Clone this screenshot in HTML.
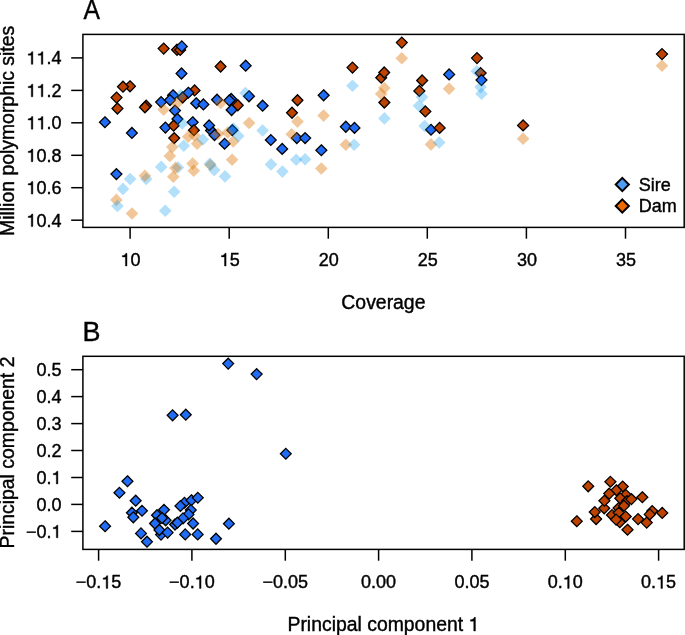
<!DOCTYPE html><html><head><meta charset="utf-8"><style>html,body{margin:0;padding:0;background:#fff;}svg{display:block;will-change:transform;}.h1{fill:none;stroke:none;}text{font-kerning:none;font-family:"Liberation Sans",sans-serif;fill:#000;stroke:#000;stroke-width:0.4px;}</style></head><body>
<svg width="685" height="635" viewBox="0 0 685 635">
<rect width="685" height="635" fill="#fff"/>
<text transform="translate(83.6 18.8) scale(0.95 1.06)" font-size="26">A</text>
<g>
<path d="M194.6 85.0L200.0 90.4L194.6 95.9L189.2 90.4Z" fill="#bf4300" stroke="#000" stroke-width="1.3"/>
<path d="M237.8 99.8L243.2 105.3L237.8 110.8L232.4 105.3Z" fill="#bf4300" stroke="#000" stroke-width="1.3"/>
<path d="M480.6 67.6L486.1 73.1L480.6 78.5L475.2 73.1Z" fill="#bf4300" stroke="#000" stroke-width="1.3"/>
<path d="M181.5 68.0L186.9 73.5L181.5 79.0L176.1 73.5Z" fill="#216cf5" stroke="#000" stroke-width="1.3"/>
<path d="M188.3 87.3L193.8 92.8L188.3 98.2L182.9 92.8Z" fill="#216cf5" stroke="#000" stroke-width="1.3"/>
<path d="M173.0 89.8L178.4 95.2L173.0 100.7L167.6 95.2Z" fill="#216cf5" stroke="#000" stroke-width="1.3"/>
<path d="M245.7 60.2L251.1 65.7L245.7 71.2L240.2 65.7Z" fill="#216cf5" stroke="#000" stroke-width="1.3"/>
<path d="M249.0 90.8L254.4 96.2L249.0 101.7L243.6 96.2Z" fill="#216cf5" stroke="#000" stroke-width="1.3"/>
<path d="M323.6 89.8L329.1 95.3L323.6 100.8L318.2 95.3Z" fill="#216cf5" stroke="#000" stroke-width="1.3"/>
<path d="M449.1 69.0L454.6 74.4L449.1 79.9L443.7 74.4Z" fill="#216cf5" stroke="#000" stroke-width="1.3"/>
<path d="M481.5 74.6L486.9 80.1L481.5 85.5L476.1 80.1Z" fill="#216cf5" stroke="#000" stroke-width="1.3"/>
<path d="M231.2 93.5L236.6 99.0L231.2 104.5L225.8 99.0Z" fill="#216cf5" stroke="#000" stroke-width="1.3"/>
<path d="M211.0 125.0L216.4 130.5L211.0 135.9L205.6 130.5Z" fill="#216cf5" stroke="#000" stroke-width="1.3"/>
<path d="M161.1 96.6L166.5 102.1L161.1 107.5L155.7 102.1Z" fill="#216cf5" stroke="#000" stroke-width="1.3"/>
<path d="M170.0 94.6L175.4 100.1L170.0 105.5L164.6 100.1Z" fill="#216cf5" stroke="#000" stroke-width="1.3"/>
<path d="M196.2 97.8L201.6 103.2L196.2 108.7L190.8 103.2Z" fill="#216cf5" stroke="#000" stroke-width="1.3"/>
<path d="M203.4 99.0L208.8 104.4L203.4 109.9L198.0 104.4Z" fill="#216cf5" stroke="#000" stroke-width="1.3"/>
<path d="M217.0 94.3L222.4 99.8L217.0 105.2L211.6 99.8Z" fill="#216cf5" stroke="#000" stroke-width="1.3"/>
<path d="M229.3 95.0L234.8 100.4L229.3 105.9L223.9 100.4Z" fill="#216cf5" stroke="#000" stroke-width="1.3"/>
<path d="M231.6 104.5L237.0 110.0L231.6 115.5L226.2 110.0Z" fill="#216cf5" stroke="#000" stroke-width="1.3"/>
<path d="M175.0 105.1L180.4 110.6L175.0 116.0L169.6 110.6Z" fill="#216cf5" stroke="#000" stroke-width="1.3"/>
<path d="M177.4 113.5L182.8 119.0L177.4 124.5L172.0 119.0Z" fill="#216cf5" stroke="#000" stroke-width="1.3"/>
<path d="M165.4 122.1L170.8 127.6L165.4 133.0L160.0 127.6Z" fill="#216cf5" stroke="#000" stroke-width="1.3"/>
<path d="M192.7 116.8L198.1 122.2L192.7 127.7L187.2 122.2Z" fill="#216cf5" stroke="#000" stroke-width="1.3"/>
<path d="M209.1 120.0L214.5 125.4L209.1 130.8L203.7 125.4Z" fill="#216cf5" stroke="#000" stroke-width="1.3"/>
<path d="M214.5 129.7L219.9 135.1L214.5 140.5L209.1 135.1Z" fill="#216cf5" stroke="#000" stroke-width="1.3"/>
<path d="M224.6 138.4L230.0 143.8L224.6 149.2L219.2 143.8Z" fill="#216cf5" stroke="#000" stroke-width="1.3"/>
<path d="M232.3 124.7L237.8 130.2L232.3 135.6L226.9 130.2Z" fill="#216cf5" stroke="#000" stroke-width="1.3"/>
<path d="M104.9 116.8L110.4 122.2L104.9 127.7L99.5 122.2Z" fill="#216cf5" stroke="#000" stroke-width="1.3"/>
<path d="M131.9 127.5L137.3 133.0L131.9 138.4L126.5 133.0Z" fill="#216cf5" stroke="#000" stroke-width="1.3"/>
<path d="M262.6 100.2L268.1 105.7L262.6 111.2L257.2 105.7Z" fill="#216cf5" stroke="#000" stroke-width="1.3"/>
<path d="M270.8 134.6L276.2 140.0L270.8 145.4L265.4 140.0Z" fill="#216cf5" stroke="#000" stroke-width="1.3"/>
<path d="M282.2 143.5L287.6 148.9L282.2 154.3L276.8 148.9Z" fill="#216cf5" stroke="#000" stroke-width="1.3"/>
<path d="M296.8 132.7L302.2 138.1L296.8 143.5L291.4 138.1Z" fill="#216cf5" stroke="#000" stroke-width="1.3"/>
<path d="M305.1 132.7L310.6 138.1L305.1 143.5L299.7 138.1Z" fill="#216cf5" stroke="#000" stroke-width="1.3"/>
<path d="M345.8 121.2L351.2 126.7L345.8 132.2L340.4 126.7Z" fill="#216cf5" stroke="#000" stroke-width="1.3"/>
<path d="M354.5 122.5L359.9 127.9L354.5 133.3L349.1 127.9Z" fill="#216cf5" stroke="#000" stroke-width="1.3"/>
<path d="M321.3 144.8L326.8 150.2L321.3 155.6L315.9 150.2Z" fill="#216cf5" stroke="#000" stroke-width="1.3"/>
<path d="M431.0 124.4L436.4 129.8L431.0 135.2L425.6 129.8Z" fill="#216cf5" stroke="#000" stroke-width="1.3"/>
<path d="M116.4 168.7L121.9 174.1L116.4 179.5L111.0 174.1Z" fill="#216cf5" stroke="#000" stroke-width="1.3"/>
<path d="M130.0 80.8L135.4 86.3L130.0 91.8L124.5 86.3Z" fill="#bf4300" stroke="#000" stroke-width="1.3"/>
<path d="M123.0 81.2L128.4 86.7L123.0 92.2L117.5 86.7Z" fill="#bf4300" stroke="#000" stroke-width="1.3"/>
<path d="M116.6 92.1L122.0 97.6L116.6 103.0L111.1 97.6Z" fill="#bf4300" stroke="#000" stroke-width="1.3"/>
<path d="M177.0 44.2L182.4 49.7L177.0 55.2L171.6 49.7Z" fill="#bf4300" stroke="#000" stroke-width="1.3"/>
<path d="M180.2 44.4L185.6 49.9L180.2 55.4L174.8 49.9Z" fill="#bf4300" stroke="#000" stroke-width="1.3"/>
<path d="M163.7 43.1L169.1 48.6L163.7 54.1L158.2 48.6Z" fill="#bf4300" stroke="#000" stroke-width="1.3"/>
<path d="M220.6 61.0L226.0 66.5L220.6 72.0L215.2 66.5Z" fill="#bf4300" stroke="#000" stroke-width="1.3"/>
<path d="M182.6 92.0L188.0 97.5L182.6 103.0L177.2 97.5Z" fill="#bf4300" stroke="#000" stroke-width="1.3"/>
<path d="M352.5 62.1L357.9 67.6L352.5 73.0L347.1 67.6Z" fill="#bf4300" stroke="#000" stroke-width="1.3"/>
<path d="M381.2 72.3L386.6 77.8L381.2 83.2L375.8 77.8Z" fill="#bf4300" stroke="#000" stroke-width="1.3"/>
<path d="M384.2 67.0L389.6 72.5L384.2 78.0L378.8 72.5Z" fill="#bf4300" stroke="#000" stroke-width="1.3"/>
<path d="M401.8 37.1L407.2 42.6L401.8 48.1L396.4 42.6Z" fill="#bf4300" stroke="#000" stroke-width="1.3"/>
<path d="M422.1 75.0L427.6 80.5L422.1 86.0L416.7 80.5Z" fill="#bf4300" stroke="#000" stroke-width="1.3"/>
<path d="M419.3 85.5L424.8 90.9L419.3 96.4L413.9 90.9Z" fill="#bf4300" stroke="#000" stroke-width="1.3"/>
<path d="M477.0 52.6L482.4 58.1L477.0 63.6L471.6 58.1Z" fill="#bf4300" stroke="#000" stroke-width="1.3"/>
<path d="M662.0 48.6L667.5 54.1L662.0 59.6L656.5 54.1Z" fill="#bf4300" stroke="#000" stroke-width="1.3"/>
<path d="M117.4 103.0L122.9 108.5L117.4 114.0L112.0 108.5Z" fill="#bf4300" stroke="#000" stroke-width="1.3"/>
<path d="M146.2 100.2L151.6 105.7L146.2 111.2L140.8 105.7Z" fill="#bf4300" stroke="#000" stroke-width="1.3"/>
<path d="M144.9 101.8L150.3 107.2L144.9 112.7L139.5 107.2Z" fill="#bf4300" stroke="#000" stroke-width="1.3"/>
<path d="M173.6 120.3L179.0 125.8L173.6 131.2L168.2 125.8Z" fill="#bf4300" stroke="#000" stroke-width="1.3"/>
<path d="M193.9 124.7L199.3 130.2L193.9 135.6L188.5 130.2Z" fill="#bf4300" stroke="#000" stroke-width="1.3"/>
<path d="M174.2 132.7L179.6 138.1L174.2 143.5L168.8 138.1Z" fill="#bf4300" stroke="#000" stroke-width="1.3"/>
<path d="M297.5 94.8L302.9 100.3L297.5 105.8L292.1 100.3Z" fill="#bf4300" stroke="#000" stroke-width="1.3"/>
<path d="M292.0 107.2L297.4 112.7L292.0 118.2L286.6 112.7Z" fill="#bf4300" stroke="#000" stroke-width="1.3"/>
<path d="M384.3 97.0L389.8 102.5L384.3 108.0L378.9 102.5Z" fill="#bf4300" stroke="#000" stroke-width="1.3"/>
<path d="M425.3 106.0L430.8 111.4L425.3 116.9L419.9 111.4Z" fill="#bf4300" stroke="#000" stroke-width="1.3"/>
<path d="M439.6 122.5L445.1 127.9L439.6 133.3L434.2 127.9Z" fill="#bf4300" stroke="#000" stroke-width="1.3"/>
<path d="M523.1 120.0L528.6 125.4L523.1 130.8L517.6 125.4Z" fill="#bf4300" stroke="#000" stroke-width="1.3"/>
<path d="M181.8 40.9L187.2 46.4L181.8 51.9L176.4 46.4Z" fill="#216cf5" stroke="#000" stroke-width="1.3"/>
<path d="M178.0 161.2L184.3 167.5L178.0 173.8L171.7 167.5Z" fill="rgba(0,148,238,0.3)"/>
<path d="M146.2 172.7L152.5 179.0L146.2 185.3L139.9 179.0Z" fill="rgba(0,148,238,0.3)"/>
<path d="M401.8 51.9L408.1 58.2L401.8 64.5L395.5 58.2Z" fill="rgba(220,112,0,0.4)"/>
<path d="M384.3 81.7L390.6 88.0L384.3 94.3L378.0 88.0Z" fill="rgba(220,112,0,0.4)"/>
<path d="M381.2 87.6L387.5 93.9L381.2 100.2L374.9 93.9Z" fill="rgba(220,112,0,0.4)"/>
<path d="M449.1 82.4L455.4 88.7L449.1 95.0L442.8 88.7Z" fill="rgba(220,112,0,0.4)"/>
<path d="M662.0 59.5L668.3 65.8L662.0 72.1L655.7 65.8Z" fill="rgba(220,112,0,0.4)"/>
<path d="M523.1 132.4L529.4 138.7L523.1 145.0L516.8 138.7Z" fill="rgba(220,112,0,0.4)"/>
<path d="M431.0 138.1L437.3 144.4L431.0 150.7L424.7 144.4Z" fill="rgba(220,112,0,0.4)"/>
<path d="M345.8 138.5L352.1 144.8L345.8 151.1L339.5 144.8Z" fill="rgba(220,112,0,0.4)"/>
<path d="M323.6 109.3L329.9 115.6L323.6 121.9L317.3 115.6Z" fill="rgba(220,112,0,0.4)"/>
<path d="M321.3 162.2L327.6 168.5L321.3 174.8L315.0 168.5Z" fill="rgba(220,112,0,0.4)"/>
<path d="M297.5 115.3L303.8 121.6L297.5 127.9L291.2 121.6Z" fill="rgba(220,112,0,0.4)"/>
<path d="M291.7 128.0L298.0 134.3L291.7 140.6L285.4 134.3Z" fill="rgba(220,112,0,0.4)"/>
<path d="M249.1 116.7L255.4 123.0L249.1 129.3L242.8 123.0Z" fill="rgba(220,112,0,0.4)"/>
<path d="M232.1 153.4L238.4 159.7L232.1 166.0L225.8 159.7Z" fill="rgba(220,112,0,0.4)"/>
<path d="M163.6 103.3L169.9 109.6L163.6 115.9L157.3 109.6Z" fill="rgba(220,112,0,0.4)"/>
<path d="M176.7 97.1L183.0 103.4L176.7 109.7L170.4 103.4Z" fill="rgba(220,112,0,0.4)"/>
<path d="M220.7 96.7L227.0 103.0L220.7 109.3L214.4 103.0Z" fill="rgba(220,112,0,0.4)"/>
<path d="M188.2 130.5L194.5 136.8L188.2 143.1L181.9 136.8Z" fill="rgba(220,112,0,0.4)"/>
<path d="M194.5 129.2L200.8 135.5L194.5 141.8L188.2 135.5Z" fill="rgba(220,112,0,0.4)"/>
<path d="M197.1 137.5L203.4 143.8L197.1 150.1L190.8 143.8Z" fill="rgba(220,112,0,0.4)"/>
<path d="M172.3 140.7L178.6 147.0L172.3 153.3L166.0 147.0Z" fill="rgba(220,112,0,0.4)"/>
<path d="M169.8 149.6L176.1 155.9L169.8 162.2L163.5 155.9Z" fill="rgba(220,112,0,0.4)"/>
<path d="M218.0 127.7L224.3 134.0L218.0 140.3L211.7 134.0Z" fill="rgba(220,112,0,0.4)"/>
<path d="M227.7 126.3L234.0 132.6L227.7 138.9L221.4 132.6Z" fill="rgba(220,112,0,0.4)"/>
<path d="M233.2 135.2L239.5 141.5L233.2 147.8L226.9 141.5Z" fill="rgba(220,112,0,0.4)"/>
<path d="M192.6 157.3L198.9 163.6L192.6 169.9L186.3 163.6Z" fill="rgba(220,112,0,0.4)"/>
<path d="M193.7 164.4L200.0 170.7L193.7 177.0L187.4 170.7Z" fill="rgba(220,112,0,0.4)"/>
<path d="M175.5 161.6L181.8 167.9L175.5 174.2L169.2 167.9Z" fill="rgba(220,112,0,0.4)"/>
<path d="M173.3 170.5L179.6 176.8L173.3 183.1L167.0 176.8Z" fill="rgba(220,112,0,0.4)"/>
<path d="M210.5 158.7L216.8 165.0L210.5 171.3L204.2 165.0Z" fill="rgba(220,112,0,0.4)"/>
<path d="M144.9 169.5L151.2 175.8L144.9 182.1L138.6 175.8Z" fill="rgba(220,112,0,0.4)"/>
<path d="M116.4 193.6L122.7 199.9L116.4 206.2L110.1 199.9Z" fill="rgba(220,112,0,0.4)"/>
<path d="M132.0 207.2L138.3 213.5L132.0 219.8L125.7 213.5Z" fill="rgba(220,112,0,0.4)"/>
<path d="M180.6 89.0L186.9 95.3L180.6 101.6L174.3 95.3Z" fill="rgba(0,148,238,0.3)"/>
<path d="M245.4 86.7L251.7 93.0L245.4 99.3L239.1 93.0Z" fill="rgba(0,148,238,0.3)"/>
<path d="M352.5 79.5L358.8 85.8L352.5 92.1L346.2 85.8Z" fill="rgba(0,148,238,0.3)"/>
<path d="M476.8 64.9L483.1 71.2L476.8 77.5L470.5 71.2Z" fill="rgba(0,148,238,0.3)"/>
<path d="M480.6 80.8L486.9 87.1L480.6 93.4L474.3 87.1Z" fill="rgba(0,148,238,0.3)"/>
<path d="M481.5 87.5L487.8 93.8L481.5 100.1L475.2 93.8Z" fill="rgba(0,148,238,0.3)"/>
<path d="M422.1 90.7L428.4 97.0L422.1 103.3L415.8 97.0Z" fill="rgba(0,148,238,0.3)"/>
<path d="M418.9 99.4L425.2 105.7L418.9 112.0L412.6 105.7Z" fill="rgba(0,148,238,0.3)"/>
<path d="M384.4 112.1L390.7 118.4L384.4 124.7L378.1 118.4Z" fill="rgba(0,148,238,0.3)"/>
<path d="M424.6 119.7L430.9 126.0L424.6 132.3L418.3 126.0Z" fill="rgba(0,148,238,0.3)"/>
<path d="M439.2 136.2L445.5 142.5L439.2 148.8L432.9 142.5Z" fill="rgba(0,148,238,0.3)"/>
<path d="M354.1 138.5L360.4 144.8L354.1 151.1L347.8 144.8Z" fill="rgba(0,148,238,0.3)"/>
<path d="M182.2 117.2L188.5 123.5L182.2 129.8L175.9 123.5Z" fill="rgba(0,148,238,0.3)"/>
<path d="M183.8 139.4L190.1 145.7L183.8 152.0L177.5 145.7Z" fill="rgba(0,148,238,0.3)"/>
<path d="M202.8 133.2L209.1 139.5L202.8 145.8L196.5 139.5Z" fill="rgba(0,148,238,0.3)"/>
<path d="M233.3 122.3L239.6 128.6L233.3 134.9L227.0 128.6Z" fill="rgba(0,148,238,0.3)"/>
<path d="M238.3 129.7L244.6 136.0L238.3 142.3L232.0 136.0Z" fill="rgba(0,148,238,0.3)"/>
<path d="M209.8 157.4L216.1 163.7L209.8 170.0L203.5 163.7Z" fill="rgba(0,148,238,0.3)"/>
<path d="M214.2 163.8L220.5 170.1L214.2 176.4L207.9 170.1Z" fill="rgba(0,148,238,0.3)"/>
<path d="M262.6 124.2L268.9 130.5L262.6 136.8L256.3 130.5Z" fill="rgba(0,148,238,0.3)"/>
<path d="M296.2 153.4L302.5 159.7L296.2 166.0L289.9 159.7Z" fill="rgba(0,148,238,0.3)"/>
<path d="M305.1 153.0L311.4 159.3L305.1 165.6L298.8 159.3Z" fill="rgba(0,148,238,0.3)"/>
<path d="M271.0 158.1L277.3 164.4L271.0 170.7L264.7 164.4Z" fill="rgba(0,148,238,0.3)"/>
<path d="M282.4 165.3L288.7 171.6L282.4 177.9L276.1 171.6Z" fill="rgba(0,148,238,0.3)"/>
<path d="M130.1 172.7L136.4 179.0L130.1 185.3L123.8 179.0Z" fill="rgba(0,148,238,0.3)"/>
<path d="M123.0 182.6L129.3 188.9L123.0 195.2L116.7 188.9Z" fill="rgba(0,148,238,0.3)"/>
<path d="M117.4 199.7L123.7 206.0L117.4 212.3L111.1 206.0Z" fill="rgba(0,148,238,0.3)"/>
<path d="M161.2 160.6L167.5 166.9L161.2 173.2L154.9 166.9Z" fill="rgba(0,148,238,0.3)"/>
<path d="M225.0 170.1L231.3 176.4L225.0 182.7L218.7 176.4Z" fill="rgba(0,148,238,0.3)"/>
<path d="M174.2 185.4L180.5 191.7L174.2 198.0L167.9 191.7Z" fill="rgba(0,148,238,0.3)"/>
<path d="M165.3 204.4L171.6 210.7L165.3 217.0L159.0 210.7Z" fill="rgba(0,148,238,0.3)"/>
</g>
<rect x="82.9" y="34.4" width="601.3000000000001" height="193.0" fill="none" stroke="#000" stroke-width="1.5"/>
<line x1="71.2" y1="220.2" x2="82.9" y2="220.2" stroke="#000" stroke-width="1.5"/>
<text x="61.5" y="226.6" font-size="18" text-anchor="end"><tspan class="h1">1</tspan>0.4</text>
<line x1="71.2" y1="187.7" x2="82.9" y2="187.7" stroke="#000" stroke-width="1.5"/>
<text x="61.5" y="194.1" font-size="18" text-anchor="end"><tspan class="h1">1</tspan>0.6</text>
<line x1="71.2" y1="155.3" x2="82.9" y2="155.3" stroke="#000" stroke-width="1.5"/>
<text x="61.5" y="161.7" font-size="18" text-anchor="end"><tspan class="h1">1</tspan>0.8</text>
<line x1="71.2" y1="122.8" x2="82.9" y2="122.8" stroke="#000" stroke-width="1.5"/>
<text x="61.5" y="129.2" font-size="18" text-anchor="end"><tspan class="h1">1</tspan><tspan class="h1">1</tspan>.0</text>
<line x1="71.2" y1="90.4" x2="82.9" y2="90.4" stroke="#000" stroke-width="1.5"/>
<text x="61.5" y="96.8" font-size="18" text-anchor="end"><tspan class="h1">1</tspan><tspan class="h1">1</tspan>.2</text>
<line x1="71.2" y1="57.9" x2="82.9" y2="57.9" stroke="#000" stroke-width="1.5"/>
<text x="61.5" y="64.3" font-size="18" text-anchor="end"><tspan class="h1">1</tspan><tspan class="h1">1</tspan>.4</text>
<line x1="130.1" y1="227.4" x2="130.1" y2="238.7" stroke="#000" stroke-width="1.5"/>
<text x="130.6" y="266.0" font-size="18" text-anchor="middle"><tspan class="h1">1</tspan>0</text>
<line x1="229.2" y1="227.4" x2="229.2" y2="238.7" stroke="#000" stroke-width="1.5"/>
<text x="229.7" y="266.0" font-size="18" text-anchor="middle"><tspan class="h1">1</tspan>5</text>
<line x1="328.3" y1="227.4" x2="328.3" y2="238.7" stroke="#000" stroke-width="1.5"/>
<text x="328.8" y="266.0" font-size="18" text-anchor="middle">20</text>
<line x1="427.3" y1="227.4" x2="427.3" y2="238.7" stroke="#000" stroke-width="1.5"/>
<text x="427.8" y="266.0" font-size="18" text-anchor="middle">25</text>
<line x1="526.4" y1="227.4" x2="526.4" y2="238.7" stroke="#000" stroke-width="1.5"/>
<text x="526.9" y="266.0" font-size="18" text-anchor="middle">30</text>
<line x1="625.5" y1="227.4" x2="625.5" y2="238.7" stroke="#000" stroke-width="1.5"/>
<text x="626.0" y="266.0" font-size="18" text-anchor="middle">35</text>
<text x="383.4" y="308.8" font-size="19.4" text-anchor="middle">Coverage</text>
<text transform="translate(14.2 130.9) rotate(-90)" font-size="19.4" text-anchor="middle">Million polymorphic sites</text>
<path d="M622.3 177.9L628.9 184.5L622.3 191.1L615.7 184.5Z" fill="#4f9cf5" stroke="#000" stroke-width="2"/>
<path d="M622.3 199.4L628.9 206.0L622.3 212.6L615.7 206.0Z" fill="#ec6a00" stroke="#000" stroke-width="2"/>
<text x="638.8" y="190.8" font-size="18">Sire</text>
<text x="638.8" y="212.3" font-size="18">Dam</text>
<text x="82.4" y="340.9" font-size="27">B</text>
<g>
<path d="M228.2 358.2L233.6 363.6L228.2 369.1L222.8 363.6Z" fill="#216cf5" stroke="#000" stroke-width="1.3"/>
<path d="M256.6 368.7L262.1 374.1L256.6 379.6L251.2 374.1Z" fill="#216cf5" stroke="#000" stroke-width="1.3"/>
<path d="M172.6 409.9L178.0 415.3L172.6 420.8L167.2 415.3Z" fill="#216cf5" stroke="#000" stroke-width="1.3"/>
<path d="M185.8 409.2L191.2 414.7L185.8 420.1L180.4 414.7Z" fill="#216cf5" stroke="#000" stroke-width="1.3"/>
<path d="M285.8 448.4L291.2 453.8L285.8 459.2L280.4 453.8Z" fill="#216cf5" stroke="#000" stroke-width="1.3"/>
<path d="M127.5 475.8L132.9 481.2L127.5 486.6L122.0 481.2Z" fill="#216cf5" stroke="#000" stroke-width="1.3"/>
<path d="M119.4 487.4L124.9 492.8L119.4 498.2L114.0 492.8Z" fill="#216cf5" stroke="#000" stroke-width="1.3"/>
<path d="M135.7 495.2L141.1 500.7L135.7 506.1L130.2 500.7Z" fill="#216cf5" stroke="#000" stroke-width="1.3"/>
<path d="M131.9 507.3L137.3 512.8L131.9 518.2L126.5 512.8Z" fill="#216cf5" stroke="#000" stroke-width="1.3"/>
<path d="M133.3 511.8L138.8 517.3L133.3 522.8L127.9 517.3Z" fill="#216cf5" stroke="#000" stroke-width="1.3"/>
<path d="M142.0 505.4L147.4 510.8L142.0 516.2L136.6 510.8Z" fill="#216cf5" stroke="#000" stroke-width="1.3"/>
<path d="M105.1 520.8L110.5 526.2L105.1 531.7L99.6 526.2Z" fill="#216cf5" stroke="#000" stroke-width="1.3"/>
<path d="M141.0 527.9L146.4 533.4L141.0 538.9L135.6 533.4Z" fill="#216cf5" stroke="#000" stroke-width="1.3"/>
<path d="M147.0 536.3L152.4 541.8L147.0 547.2L141.6 541.8Z" fill="#216cf5" stroke="#000" stroke-width="1.3"/>
<path d="M165.6 514.8L171.0 520.2L165.6 525.7L160.2 520.2Z" fill="#216cf5" stroke="#000" stroke-width="1.3"/>
<path d="M157.0 509.8L162.4 515.3L157.0 520.8L151.6 515.3Z" fill="#216cf5" stroke="#000" stroke-width="1.3"/>
<path d="M164.0 504.4L169.4 509.8L164.0 515.2L158.6 509.8Z" fill="#216cf5" stroke="#000" stroke-width="1.3"/>
<path d="M162.0 512.5L167.4 518.0L162.0 523.5L156.6 518.0Z" fill="#216cf5" stroke="#000" stroke-width="1.3"/>
<path d="M155.0 518.0L160.4 523.5L155.0 529.0L149.6 523.5Z" fill="#216cf5" stroke="#000" stroke-width="1.3"/>
<path d="M161.0 529.1L166.4 534.6L161.0 540.1L155.6 534.6Z" fill="#216cf5" stroke="#000" stroke-width="1.3"/>
<path d="M159.4 524.5L164.8 530.0L159.4 535.5L154.0 530.0Z" fill="#216cf5" stroke="#000" stroke-width="1.3"/>
<path d="M167.6 527.1L173.0 532.6L167.6 538.1L162.2 532.6Z" fill="#216cf5" stroke="#000" stroke-width="1.3"/>
<path d="M184.5 497.4L189.9 502.8L184.5 508.2L179.1 502.8Z" fill="#216cf5" stroke="#000" stroke-width="1.3"/>
<path d="M180.4 500.6L185.8 506.0L180.4 511.4L175.0 506.0Z" fill="#216cf5" stroke="#000" stroke-width="1.3"/>
<path d="M191.4 494.8L196.8 500.2L191.4 505.6L186.0 500.2Z" fill="#216cf5" stroke="#000" stroke-width="1.3"/>
<path d="M197.8 492.4L203.2 497.8L197.8 503.2L192.4 497.8Z" fill="#216cf5" stroke="#000" stroke-width="1.3"/>
<path d="M190.8 504.6L196.2 510.0L190.8 515.5L185.4 510.0Z" fill="#216cf5" stroke="#000" stroke-width="1.3"/>
<path d="M188.5 508.9L193.9 514.4L188.5 519.9L183.1 514.4Z" fill="#216cf5" stroke="#000" stroke-width="1.3"/>
<path d="M183.0 512.9L188.4 518.4L183.0 523.9L177.6 518.4Z" fill="#216cf5" stroke="#000" stroke-width="1.3"/>
<path d="M175.0 519.0L180.4 524.5L175.0 530.0L169.6 524.5Z" fill="#216cf5" stroke="#000" stroke-width="1.3"/>
<path d="M177.4 517.3L182.8 522.8L177.4 528.2L172.0 522.8Z" fill="#216cf5" stroke="#000" stroke-width="1.3"/>
<path d="M193.1 518.0L198.5 523.5L193.1 529.0L187.7 523.5Z" fill="#216cf5" stroke="#000" stroke-width="1.3"/>
<path d="M185.2 528.9L190.6 534.4L185.2 539.9L179.8 534.4Z" fill="#216cf5" stroke="#000" stroke-width="1.3"/>
<path d="M197.7 528.9L203.1 534.4L197.7 539.9L192.2 534.4Z" fill="#216cf5" stroke="#000" stroke-width="1.3"/>
<path d="M228.9 518.3L234.3 523.8L228.9 529.2L223.5 523.8Z" fill="#216cf5" stroke="#000" stroke-width="1.3"/>
<path d="M216.0 533.2L221.4 538.7L216.0 544.2L210.6 538.7Z" fill="#216cf5" stroke="#000" stroke-width="1.3"/>
<path d="M588.2 480.9L593.7 486.3L588.2 491.8L582.8 486.3Z" fill="#bf4300" stroke="#000" stroke-width="1.3"/>
<path d="M610.4 476.4L615.9 481.8L610.4 487.2L604.9 481.8Z" fill="#bf4300" stroke="#000" stroke-width="1.3"/>
<path d="M625.7 489.4L631.2 494.8L625.7 500.2L620.2 494.8Z" fill="#bf4300" stroke="#000" stroke-width="1.3"/>
<path d="M622.7 481.1L628.2 486.5L622.7 491.9L617.2 486.5Z" fill="#bf4300" stroke="#000" stroke-width="1.3"/>
<path d="M616.3 484.8L621.8 490.2L616.3 495.6L610.8 490.2Z" fill="#bf4300" stroke="#000" stroke-width="1.3"/>
<path d="M609.2 488.2L614.7 493.6L609.2 499.1L603.8 493.6Z" fill="#bf4300" stroke="#000" stroke-width="1.3"/>
<path d="M620.2 492.9L625.7 498.3L620.2 503.8L614.8 498.3Z" fill="#bf4300" stroke="#000" stroke-width="1.3"/>
<path d="M627.0 495.6L632.5 501.0L627.0 506.4L621.5 501.0Z" fill="#bf4300" stroke="#000" stroke-width="1.3"/>
<path d="M631.4 493.7L636.9 499.1L631.4 504.6L625.9 499.1Z" fill="#bf4300" stroke="#000" stroke-width="1.3"/>
<path d="M642.3 491.8L647.8 497.2L642.3 502.6L636.8 497.2Z" fill="#bf4300" stroke="#000" stroke-width="1.3"/>
<path d="M604.2 502.9L609.7 508.3L604.2 513.8L598.8 508.3Z" fill="#bf4300" stroke="#000" stroke-width="1.3"/>
<path d="M604.4 495.4L609.9 500.8L604.4 506.2L598.9 500.8Z" fill="#bf4300" stroke="#000" stroke-width="1.3"/>
<path d="M618.6 502.6L624.1 508.0L618.6 513.5L613.1 508.0Z" fill="#bf4300" stroke="#000" stroke-width="1.3"/>
<path d="M624.0 500.2L629.5 505.7L624.0 511.1L618.5 505.7Z" fill="#bf4300" stroke="#000" stroke-width="1.3"/>
<path d="M596.1 513.5L601.6 519.0L596.1 524.5L590.6 519.0Z" fill="#bf4300" stroke="#000" stroke-width="1.3"/>
<path d="M594.8 506.6L600.2 512.0L594.8 517.5L589.3 512.0Z" fill="#bf4300" stroke="#000" stroke-width="1.3"/>
<path d="M576.8 515.8L582.2 521.2L576.8 526.7L571.3 521.2Z" fill="#bf4300" stroke="#000" stroke-width="1.3"/>
<path d="M612.0 509.6L617.5 515.0L612.0 520.5L606.5 515.0Z" fill="#bf4300" stroke="#000" stroke-width="1.3"/>
<path d="M618.7 507.3L624.2 512.8L618.7 518.2L613.2 512.8Z" fill="#bf4300" stroke="#000" stroke-width="1.3"/>
<path d="M625.7 511.1L631.2 516.5L625.7 522.0L620.2 516.5Z" fill="#bf4300" stroke="#000" stroke-width="1.3"/>
<path d="M619.8 516.8L625.2 522.2L619.8 527.7L614.3 522.2Z" fill="#bf4300" stroke="#000" stroke-width="1.3"/>
<path d="M616.1 514.1L621.6 519.6L616.1 525.1L610.6 519.6Z" fill="#bf4300" stroke="#000" stroke-width="1.3"/>
<path d="M627.5 524.3L633.0 529.8L627.5 535.2L622.0 529.8Z" fill="#bf4300" stroke="#000" stroke-width="1.3"/>
<path d="M638.1 513.6L643.6 519.1L638.1 524.6L632.6 519.1Z" fill="#bf4300" stroke="#000" stroke-width="1.3"/>
<path d="M646.7 517.1L652.2 522.6L646.7 528.1L641.2 522.6Z" fill="#bf4300" stroke="#000" stroke-width="1.3"/>
<path d="M652.2 505.6L657.7 511.0L652.2 516.5L646.8 511.0Z" fill="#bf4300" stroke="#000" stroke-width="1.3"/>
<path d="M649.8 508.9L655.2 514.4L649.8 519.9L644.3 514.4Z" fill="#bf4300" stroke="#000" stroke-width="1.3"/>
<path d="M662.2 507.4L667.7 512.9L662.2 518.4L656.8 512.9Z" fill="#bf4300" stroke="#000" stroke-width="1.3"/>
</g>
<rect x="82.9" y="356.3" width="601.3000000000001" height="193.09999999999997" fill="none" stroke="#000" stroke-width="1.5"/>
<line x1="71.2" y1="531.4" x2="82.9" y2="531.4" stroke="#000" stroke-width="1.5"/>
<text x="61.5" y="537.8" font-size="18" text-anchor="end">−0.<tspan class="h1">1</tspan></text>
<line x1="71.2" y1="504.4" x2="82.9" y2="504.4" stroke="#000" stroke-width="1.5"/>
<text x="61.5" y="510.8" font-size="18" text-anchor="end">0.0</text>
<line x1="71.2" y1="477.5" x2="82.9" y2="477.5" stroke="#000" stroke-width="1.5"/>
<text x="61.5" y="483.9" font-size="18" text-anchor="end">0.<tspan class="h1">1</tspan></text>
<line x1="71.2" y1="450.5" x2="82.9" y2="450.5" stroke="#000" stroke-width="1.5"/>
<text x="61.5" y="456.9" font-size="18" text-anchor="end">0.2</text>
<line x1="71.2" y1="423.6" x2="82.9" y2="423.6" stroke="#000" stroke-width="1.5"/>
<text x="61.5" y="430.0" font-size="18" text-anchor="end">0.3</text>
<line x1="71.2" y1="396.6" x2="82.9" y2="396.6" stroke="#000" stroke-width="1.5"/>
<text x="61.5" y="403.0" font-size="18" text-anchor="end">0.4</text>
<line x1="71.2" y1="369.7" x2="82.9" y2="369.7" stroke="#000" stroke-width="1.5"/>
<text x="61.5" y="376.1" font-size="18" text-anchor="end">0.5</text>
<line x1="98.6" y1="549.4" x2="98.6" y2="560.7" stroke="#000" stroke-width="1.5"/>
<text x="98.6" y="588.4" font-size="18" text-anchor="middle">−0.<tspan class="h1">1</tspan>5</text>
<line x1="191.9" y1="549.4" x2="191.9" y2="560.7" stroke="#000" stroke-width="1.5"/>
<text x="191.9" y="588.4" font-size="18" text-anchor="middle">−0.<tspan class="h1">1</tspan>0</text>
<line x1="285.3" y1="549.4" x2="285.3" y2="560.7" stroke="#000" stroke-width="1.5"/>
<text x="285.3" y="588.4" font-size="18" text-anchor="middle">−0.05</text>
<line x1="378.6" y1="549.4" x2="378.6" y2="560.7" stroke="#000" stroke-width="1.5"/>
<text x="378.6" y="588.4" font-size="18" text-anchor="middle">0.00</text>
<line x1="471.9" y1="549.4" x2="471.9" y2="560.7" stroke="#000" stroke-width="1.5"/>
<text x="471.9" y="588.4" font-size="18" text-anchor="middle">0.05</text>
<line x1="565.3" y1="549.4" x2="565.3" y2="560.7" stroke="#000" stroke-width="1.5"/>
<text x="565.3" y="588.4" font-size="18" text-anchor="middle">0.<tspan class="h1">1</tspan>0</text>
<line x1="658.6" y1="549.4" x2="658.6" y2="560.7" stroke="#000" stroke-width="1.5"/>
<text x="658.6" y="588.4" font-size="18" text-anchor="middle">0.<tspan class="h1">1</tspan>5</text>
<text x="383.4" y="631.0" font-size="19.4" text-anchor="middle">Principal component <tspan class="h1">1</tspan></text>
<text transform="translate(14 452.5) rotate(-90)" font-size="19.4" text-anchor="middle">Principal component 2</text>
<g><path transform="translate(26.45 226.60) scale(0.01800 -0.01800)" d="M268 0L356 0L356 703L292 703C276 637 238 590 98 578L98 506L268 506Z" fill="#000" stroke="#000" stroke-width="22.2"/><path transform="translate(26.45 194.10) scale(0.01800 -0.01800)" d="M268 0L356 0L356 703L292 703C276 637 238 590 98 578L98 506L268 506Z" fill="#000" stroke="#000" stroke-width="22.2"/><path transform="translate(26.45 161.70) scale(0.01800 -0.01800)" d="M268 0L356 0L356 703L292 703C276 637 238 590 98 578L98 506L268 506Z" fill="#000" stroke="#000" stroke-width="22.2"/><path transform="translate(26.45 129.20) scale(0.01800 -0.01800)" d="M268 0L356 0L356 703L292 703C276 637 238 590 98 578L98 506L268 506Z" fill="#000" stroke="#000" stroke-width="22.2"/><path transform="translate(36.47 129.20) scale(0.01800 -0.01800)" d="M268 0L356 0L356 703L292 703C276 637 238 590 98 578L98 506L268 506Z" fill="#000" stroke="#000" stroke-width="22.2"/><path transform="translate(26.45 96.80) scale(0.01800 -0.01800)" d="M268 0L356 0L356 703L292 703C276 637 238 590 98 578L98 506L268 506Z" fill="#000" stroke="#000" stroke-width="22.2"/><path transform="translate(36.47 96.80) scale(0.01800 -0.01800)" d="M268 0L356 0L356 703L292 703C276 637 238 590 98 578L98 506L268 506Z" fill="#000" stroke="#000" stroke-width="22.2"/><path transform="translate(26.45 64.30) scale(0.01800 -0.01800)" d="M268 0L356 0L356 703L292 703C276 637 238 590 98 578L98 506L268 506Z" fill="#000" stroke="#000" stroke-width="22.2"/><path transform="translate(36.47 64.30) scale(0.01800 -0.01800)" d="M268 0L356 0L356 703L292 703C276 637 238 590 98 578L98 506L268 506Z" fill="#000" stroke="#000" stroke-width="22.2"/><path transform="translate(120.58 266.00) scale(0.01800 -0.01800)" d="M268 0L356 0L356 703L292 703C276 637 238 590 98 578L98 506L268 506Z" fill="#000" stroke="#000" stroke-width="22.2"/><path transform="translate(219.68 266.00) scale(0.01800 -0.01800)" d="M268 0L356 0L356 703L292 703C276 637 238 590 98 578L98 506L268 506Z" fill="#000" stroke="#000" stroke-width="22.2"/><path transform="translate(51.48 537.80) scale(0.01800 -0.01800)" d="M268 0L356 0L356 703L292 703C276 637 238 590 98 578L98 506L268 506Z" fill="#000" stroke="#000" stroke-width="22.2"/><path transform="translate(51.48 483.90) scale(0.01800 -0.01800)" d="M268 0L356 0L356 703L292 703C276 637 238 590 98 578L98 506L268 506Z" fill="#000" stroke="#000" stroke-width="22.2"/><path transform="translate(101.35 588.40) scale(0.01800 -0.01800)" d="M268 0L356 0L356 703L292 703C276 637 238 590 98 578L98 506L268 506Z" fill="#000" stroke="#000" stroke-width="22.2"/><path transform="translate(194.65 588.40) scale(0.01800 -0.01800)" d="M268 0L356 0L356 703L292 703C276 637 238 590 98 578L98 506L268 506Z" fill="#000" stroke="#000" stroke-width="22.2"/><path transform="translate(562.79 588.40) scale(0.01800 -0.01800)" d="M268 0L356 0L356 703L292 703C276 637 238 590 98 578L98 506L268 506Z" fill="#000" stroke="#000" stroke-width="22.2"/><path transform="translate(656.09 588.40) scale(0.01800 -0.01800)" d="M268 0L356 0L356 703L292 703C276 637 238 590 98 578L98 506L268 506Z" fill="#000" stroke="#000" stroke-width="22.2"/><path transform="translate(468.54 631.00) scale(0.01940 -0.01940)" d="M268 0L356 0L356 703L292 703C276 637 238 590 98 578L98 506L268 506Z" fill="#000" stroke="#000" stroke-width="20.6"/></g>
</svg></body></html>
